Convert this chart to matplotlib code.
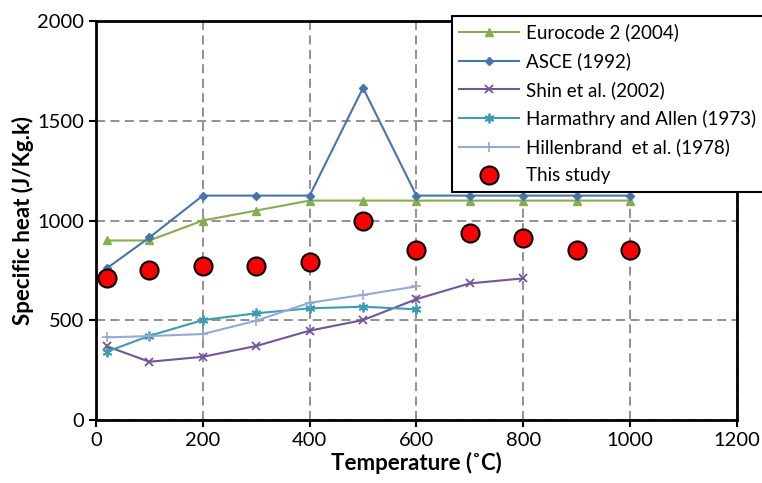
import matplotlib
matplotlib.use("Agg")
import matplotlib.pyplot as plt

plt.rcParams['font.family'] = ['Lato', 'DejaVu Sans']

# specific heat of concrete vs temperature
temp_full = [20, 100, 200, 300, 400, 500, 600, 700, 800, 900, 1000]
eurocode = [900, 900, 1000, 1050, 1100, 1100, 1100, 1100, 1100, 1100, 1100]
asce = [760, 915, 1125, 1125, 1125, 1665, 1125, 1125, 1125, 1125, 1125]

temp_shin = [20, 100, 200, 300, 400, 500, 600, 700, 800]
shin = [370, 292, 317, 371, 448, 501, 606, 685, 710]

temp_short = [20, 100, 200, 300, 400, 500, 600]
harmathry = [342, 422, 501, 535, 560, 568, 555]
hillenbrand = [414, 421, 431, 498, 588, 627, 670]

study = [710, 750, 770, 770, 790, 1000, 850, 940, 910, 850, 850]

fig = plt.figure(figsize=(7.62, 4.83), dpi=100)
ax = fig.add_axes([0.126, 0.1304, 0.841, 0.826])

ax.plot(temp_full, eurocode, color='#86ad4f', marker='^', ms=6, lw=1.5,
        label='Eurocode 2 (2004)')
ax.plot(temp_full, asce, color='#4674ad', marker='D', ms=4.5, lw=1.5,
        label='ASCE (1992)')
ax.plot(temp_shin, shin, color='#71569a', marker='x', ms=6, mew=1.3, lw=1.5,
        label='Shin et al. (2002)')
ax.plot(temp_short, harmathry, color='#3b9cb4', marker=(6, 2, 0), ms=7, mew=1.3,
        lw=1.5, label='Harmathry and Allen (1973)')
ax.plot(temp_short, hillenbrand, color='#93aad4', marker='+', ms=7, mew=1.2,
        lw=1.5, label='Hillenbrand  et al. (1978)')
ax.plot(temp_full, study, ls='none', marker='o', ms=13, mfc='#ff0000',
        mec='black', mew=1.5, label='This study', zorder=5)

ax.set_xlim(0, 1200)
ax.set_ylim(0, 2000)
ax.set_xticks(range(0, 1201, 200))
ax.set_yticks(range(0, 2001, 500))
ax.tick_params(direction='out', length=5, width=1.5, labelsize=14.5,
               colors='black')
for s in ax.spines.values():
    s.set_linewidth(2)
ax.grid(True, ls=(0, (5, 3)), color='#888888', lw=1.3)
ax.set_axisbelow(True)

ax.set_xlabel('Temperature (˚C)', fontsize=16, fontweight='bold', labelpad=2)
ax.set_ylabel('Specific heat (J/Kg.k)', fontsize=16, fontweight='bold', labelpad=2)

leg = ax.legend(loc='upper left', bbox_to_anchor=(0.555, 1.012), fontsize=13.5,
                frameon=True, fancybox=False, edgecolor='black', framealpha=1,
                handlelength=3.2, labelspacing=0.58, borderpad=0.38,
                handletextpad=0.4, borderaxespad=0)
leg.get_frame().set_linewidth(1.5)
leg.set_zorder(10)

fig.savefig('out.png', dpi=100)
